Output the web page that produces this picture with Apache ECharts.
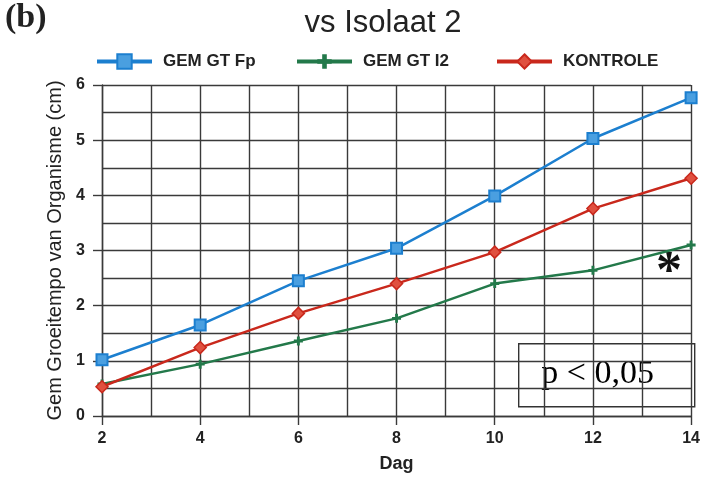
<!DOCTYPE html>
<html>
<head>
<meta charset="utf-8">
<script src="https://cdn.jsdelivr.net/npm/echarts@6/dist/echarts.min.js"></script>
<style>
  html, body { margin: 0; padding: 0; background: #fff; }
  #chart { width: 703px; height: 479px; }
</style>
</head>
<body>
<div id="chart"></div>
<script>
// Growth rate per day for each treatment
const days = [2, 4, 6, 8, 10, 12, 14];
const gemGtFp = [1.02, 1.65, 2.45, 3.04, 3.99, 5.03, 5.77];
const gemGtI2 = [0.58, 0.94, 1.36, 1.77, 2.40, 2.64, 3.10];
const kontrole = [0.53, 1.24, 1.86, 2.40, 2.97, 3.76, 4.31];

const seriesNames = ['GEM GT Fp', 'GEM GT I2', 'KONTROLE'];
const lineColors = ['#1c7fcf', '#23794a', '#c9281c'];
const fillColors = ['#4a9fe0', '#23794a', '#e0503f'];

const plusPath = 'path://M3.4,0H6.6V3.4H10V6.6H6.6V10H3.4V6.6H0V3.4H3.4Z';
const sans = 'Liberation Sans, Arial, sans-serif';
const serif = 'Liberation Serif, Times New Roman, serif';

const pairs = arr => days.map((d, i) => [d, arr[i]]);

const chart = echarts.init(document.getElementById('chart'));

const gridLine = { show: true, lineStyle: { color: '#3a3a3a', width: 1.4 } };
const tickLabel = { color: '#222', fontFamily: sans, fontSize: 16, fontWeight: 'bold' };

function legendAt(left, name) {
  return {
    left: left, top: 48, data: [name],
    itemWidth: 55, itemHeight: 18, itemGap: 0,
    lineStyle: { width: 4 },
    textStyle: { fontFamily: sans, fontSize: 17, fontWeight: 'bold', color: '#222', padding: [0, 0, 0, 6] }
  };
}

chart.setOption({
  animation: false,
  backgroundColor: '#fff',
  title: {
    text: 'vs Isolaat 2', left: 378, top: 3, textAlign: 'center',
    textStyle: { fontFamily: sans, fontSize: 31, fontWeight: 'normal', color: '#222' }
  },
  legend: [legendAt(90, seriesNames[0]), legendAt(290, seriesNames[1]), legendAt(490, seriesNames[2])],
  grid: { left: 102, right: 9, top: 85, bottom: 63 },
  xAxis: {
    type: 'value', min: 2, max: 14, interval: 2,
    name: 'Dag', nameLocation: 'middle', nameGap: 39,
    nameTextStyle: { fontFamily: sans, fontSize: 18, fontWeight: 'bold', color: '#222' },
    axisLine: { lineStyle: { color: '#3a3a3a', width: 1.4 } },
    axisTick: { show: true, length: 9, lineStyle: { color: '#3a3a3a', width: 1.4 } },
    axisLabel: Object.assign({ margin: 15 }, tickLabel),
    splitLine: gridLine,
    minorTick: { show: false, splitNumber: 2 },
    minorSplitLine: gridLine
  },
  yAxis: {
    type: 'value', min: 0, max: 6, interval: 1,
    name: 'Gem Groeitempo van Organisme (cm)', nameLocation: 'middle', nameGap: 21,
    nameTextStyle: { fontFamily: sans, fontSize: 20, fontWeight: 'normal', color: '#222' },
    axisLine: { show: true, lineStyle: { color: '#3a3a3a', width: 1.4 } },
    axisTick: { show: true, length: 9, lineStyle: { color: '#3a3a3a', width: 1.4 } },
    axisLabel: Object.assign({ margin: 17 }, tickLabel),
    splitLine: gridLine,
    minorTick: { show: false, splitNumber: 2 },
    minorSplitLine: gridLine
  },
  series: [
    {
      name: seriesNames[0], type: 'line', data: pairs(gemGtFp),
      symbol: 'rect', symbolSize: 11,
      lineStyle: { color: lineColors[0], width: 2.5 },
      itemStyle: { color: fillColors[0], borderColor: lineColors[0], borderWidth: 2 }, z: 4
    },
    {
      name: seriesNames[1], type: 'line', data: pairs(gemGtI2),
      symbol: plusPath, symbolSize: 9,
      lineStyle: { color: lineColors[1], width: 2.5 },
      itemStyle: { color: fillColors[1] }, z: 3
    },
    {
      name: seriesNames[2], type: 'line', data: pairs(kontrole),
      symbol: 'diamond', symbolSize: 12,
      lineStyle: { color: lineColors[2], width: 2.5 },
      itemStyle: { color: fillColors[2], borderColor: lineColors[2], borderWidth: 1.5 }, z: 3
    }
  ],
  graphic: [
    {
      type: 'text', left: 5, top: 1,
      style: { text: '(b)', font: 'bold 34px ' + serif, fill: '#222' }
    },
    {
      type: 'group', left: 518, top: 343,
      children: [
        { type: 'rect', shape: { x: 0, y: 0, width: 176, height: 63 },
          style: { fill: '#fff', stroke: '#333', lineWidth: 1.4 } },
        { type: 'text', x: 79, y: 30,
          style: { text: 'p < 0,05', font: '34px ' + serif, fill: '#000', align: 'center', verticalAlign: 'middle' } }
      ]
    },
    {
      type: 'text', left: 656, top: 248,
      style: { text: '*', font: 'bold 52px ' + serif, fill: '#111' }
    }
  ]
});
</script>
</body>
</html>
